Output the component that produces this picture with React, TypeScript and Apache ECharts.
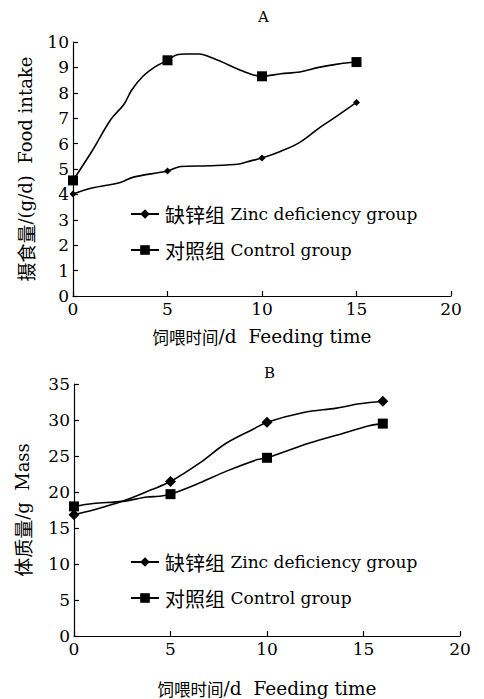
import React, { useEffect, useRef } from "react";
import * as echarts from "echarts";

// Panel A: food intake (g/d)
const daysA = [0, 5, 10, 15];
const zincA = [4.02, 4.92, 5.43, 7.62];
const controlA = [4.55, 9.28, 8.65, 9.21];
// curve
const zincTraceA: number[][] = [
  [0, 4.02], [1, 4.25], [2.5, 4.47], [3.2, 4.68], [5, 4.92], [5.7, 5.1], [7.2, 5.13],
  [8.8, 5.2], [9.4, 5.32], [10, 5.43], [11, 5.7], [12, 6.05], [13, 6.6], [14, 7.1], [15, 7.62],
];
const controlTraceA: number[][] = [
  [0, 4.55], [1, 5.7], [2, 6.95], [2.7, 7.55], [3.1, 8.1], [3.7, 8.65], [4.4, 9.05], [5, 9.28],
  [5.5, 9.5], [6, 9.53], [6.7, 9.53], [7.2, 9.42], [7.8, 9.24], [8.8, 8.91], [9.5, 8.71],
  [10, 8.65], [11, 8.75], [12, 8.82], [13, 9.0], [14, 9.13], [15, 9.21],
];

// Panel B: body mass (g)
const daysB = [0, 5, 10, 16];
const zincB = [16.85, 21.45, 29.7, 32.6];
const controlB = [18.0, 19.7, 24.75, 29.5];
const zincTraceB: number[][] = [
  [0, 16.85], [1, 17.5], [2.5, 18.7], [4, 20.3], [5, 21.45], [6.5, 24.0], [7.9, 26.8],
  [9.3, 28.75], [10, 29.7], [11.9, 31.05], [13.6, 31.65], [14.8, 32.25], [16, 32.6],
];
const controlTraceB: number[][] = [
  [0, 18.0], [1, 18.4], [2.5, 18.7], [3.8, 19.3], [4.4, 19.4], [5, 19.7], [6.5, 21.25],
  [7.9, 22.9], [9.5, 24.5], [10, 24.75], [12.2, 26.8], [14, 28.2], [15.3, 29.2], [16, 29.5],
];

const xTicks = [0, 5, 10, 15, 20];
const nameZinc = "缺锌组 Zinc deficiency group";
const nameControl = "对照组 Control group";
const titleA = "A";
const titleB = "B";
const yNameA = ["摄食量", "/(g/d)  Food intake"];
const yNameB = ["体质量", "/g  Mass"];
const xName = ["饲喂时间", "/d  Feeding time"];

const SERIF = "DejaVu Serif";
const CJK = "Noto Sans CJK SC";

function buildData(trace: number[][], days: number[], vals: number[]) {
  return trace.map(([x, y]) => {
    const i = days.indexOf(x);
    if (i >= 0) return { value: [x, vals[i]] };
    return { value: [x, y], symbol: "none" };
  });
}

export default function App() {
  const ref = useRef<HTMLDivElement>(null);
  useEffect(() => {
    const chart = echarts.init(ref.current!, null, { renderer: "svg" });
    const axisLine = { lineStyle: { color: "#000", width: 1.2 } };
    const axisTick = { inside: true, length: 5, lineStyle: { color: "#000", width: 1.2 } };
    const axisLabel = { color: "#000", fontSize: 17, fontFamily: SERIF, margin: 4 };
    const xNameStyle = {
      color: "#000",
      rich: {
        c: { fontFamily: CJK, fontSize: 16.5, color: "#000" },
        l: { fontFamily: SERIF, fontSize: 18.5, color: "#000" },
      },
    };
    const yNameStyle = {
      color: "#000",
      rich: {
        c: { fontFamily: CJK, fontSize: 19, color: "#000" },
        l: { fontFamily: SERIF, fontSize: 18, color: "#000" },
      },
    };
    const lineStyle = { color: "#000", width: 1.6 };
    const legendBase = {
      orient: "vertical" as const,
      left: 130,
      padding: 0,
      itemWidth: 28,
      itemHeight: 12,
      itemGap: 16,
      formatter: (n: string) => {
        const k = n.indexOf(" ");
        return `{c|${n.slice(0, k)}}{l| ${n.slice(k + 1)}}`;
      },
      textStyle: {
        color: "#000",
        padding: [0, 0, 0, 1],
        rich: {
          c: { fontFamily: CJK, fontSize: 20, color: "#000" },
          l: { fontFamily: SERIF, fontSize: 17, color: "#000" },
        },
      },
      data: [nameZinc, nameControl],
      selectedMode: false,
    };
    const richName = (p: string[]) => `{c|${p[0]}}{l|${p[1]}}`;
    chart.setOption({
      animation: false,
      backgroundColor: "#fff",
      title: [
        { text: titleA, left: 253, top: 4, textStyle: { fontSize: 15, fontWeight: "normal", fontFamily: SERIF, color: "#000" } },
        { text: titleB, left: 259, top: 360, textStyle: { fontSize: 15, fontWeight: "normal", fontFamily: SERIF, color: "#000" } },
      ],
      legend: [
        { ...legendBase, top: 204 },
        { ...legendBase, top: 552 },
      ],
      grid: [
        { left: 73, top: 42, width: 378, height: 254 },
        { left: 74, top: 384, width: 386, height: 252 },
      ],
      xAxis: [0, 1].map((g) => ({
        type: "value",
        gridIndex: g,
        min: xTicks[0],
        max: xTicks[xTicks.length - 1],
        interval: 5,
        splitLine: { show: false },
        axisLine,
        axisTick,
        axisLabel,
        name: richName(xName),
        nameLocation: "middle",
        nameGap: g === 0 ? 31 : 43,
        nameTextStyle: xNameStyle,
      })),
      yAxis: [
        {
          type: "value", gridIndex: 0, min: 0, max: 10, interval: 1,
          splitLine: { show: false }, axisLine, axisTick, axisLabel,
          name: richName(yNameA), nameLocation: "middle", nameGap: 38, nameTextStyle: yNameStyle,
        },
        {
          type: "value", gridIndex: 1, min: 0, max: 35, interval: 5,
          splitLine: { show: false }, axisLine, axisTick, axisLabel,
          name: richName(yNameB), nameLocation: "middle", nameGap: 42, nameTextStyle: yNameStyle,
        },
      ],
      series: [
        {
          name: nameZinc, type: "line", xAxisIndex: 0, yAxisIndex: 0, smooth: 0.35,
          symbol: "diamond", symbolSize: 7, itemStyle: { color: "#000" }, lineStyle,
          data: buildData(zincTraceA, daysA, zincA),
        },
        {
          name: nameControl, type: "line", xAxisIndex: 0, yAxisIndex: 0, smooth: 0.35,
          symbol: "rect", symbolSize: 10, itemStyle: { color: "#000" }, lineStyle,
          data: buildData(controlTraceA, daysA, controlA),
        },
        {
          name: nameZinc, type: "line", xAxisIndex: 1, yAxisIndex: 1, smooth: 0.35,
          symbol: "diamond", symbolSize: 11, itemStyle: { color: "#000" }, lineStyle,
          data: buildData(zincTraceB, daysB, zincB),
        },
        {
          name: nameControl, type: "line", xAxisIndex: 1, yAxisIndex: 1, smooth: 0.35,
          symbol: "rect", symbolSize: 10, itemStyle: { color: "#000" }, lineStyle,
          data: buildData(controlTraceB, daysB, controlB),
        },
      ],
    });
    return () => chart.dispose();
  }, []);
  return (
    <div
      ref={ref}
      style={{ position: "absolute", left: 0, top: 0, width: 484, height: 699, background: "#fff" }}
    />
  );
}
